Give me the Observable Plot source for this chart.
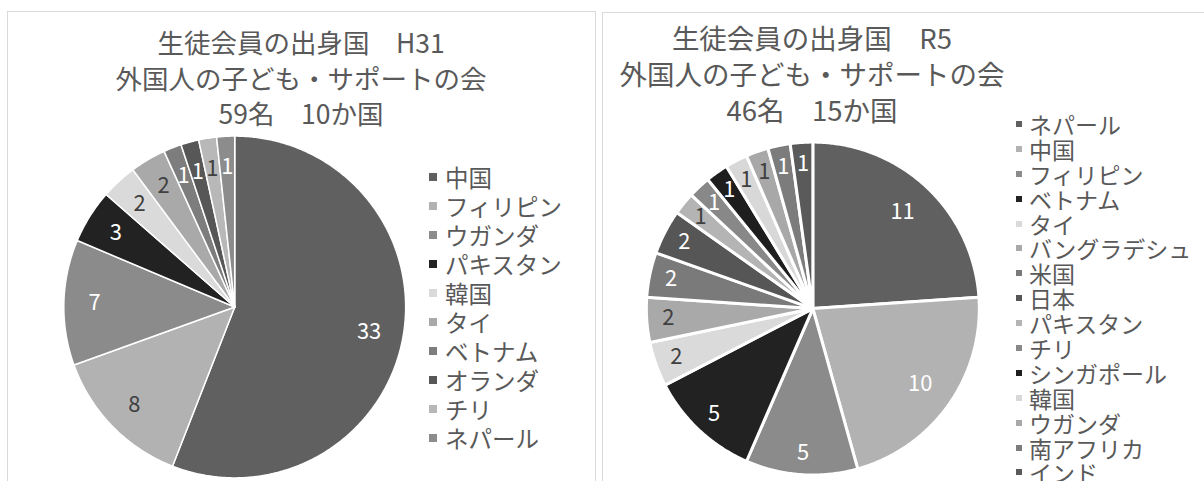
<!DOCTYPE html>
<html><head><meta charset="utf-8">
<script src="https://cdn.jsdelivr.net/npm/d3@7"></script>
<script src="https://cdn.jsdelivr.net/npm/@observablehq/plot@0.6"></script>
<style>
body{margin:0;background:#fff;width:1204px;height:481px;overflow:hidden;position:relative;font-family:"Noto Sans CJK JP","Noto Sans",sans-serif;color:#595959}
.panel{position:absolute;border:1px solid #d9d9d9;background:#fff;overflow:hidden;box-sizing:border-box}
.panel svg{position:absolute;left:0;top:0}
.title{position:absolute;text-align:center;white-space:nowrap;transform:translateX(-50%)}
.legend{position:absolute}
.legend div{display:flex;align-items:center;white-space:nowrap}
.legend .sw{display:inline-block;flex:none}
</style></head><body>
<div id="p1" class="panel" style="left:7px;top:11px;width:589px;height:520px"></div>
<div id="p2" class="panel" style="left:602px;top:12px;width:640px;height:520px"></div>
<script>
// ---- H31 data ----
const titleH31 = ["生徒会員の出身国　H31", "外国人の子ども・サポートの会", "59名　10か国"];
const countriesH31 = ["中国", "フィリピン", "ウガンダ", "パキスタン", "韓国", "タイ", "ベトナム", "オランダ", "チリ", "ネパール"];
const valuesH31 = [33, 8, 7, 3, 2, 2, 1, 1, 1, 1];
const colorsH31 = ["#606060", "#b2b2b2", "#8b8b8b", "#222222", "#dadada", "#a9a9a9", "#7d7d7d", "#575757", "#b8b8b8", "#8c8c8c"];
const inkH31 = ["#fff", "#404040", "#fff", "#fff", "#404040", "#404040", "#fff", "#fff", "#404040", "#fff"];

// ---- R5 data ----
const titleR5 = ["生徒会員の出身国　R5", "外国人の子ども・サポートの会", "46名　15か国"];
const countriesR5 = ["ネパール", "中国", "フィリピン", "ベトナム", "タイ", "バングラデシュ", "米国", "日本", "パキスタン", "チリ", "シンガポール", "韓国", "ウガンダ", "南アフリカ", "インド"];
const valuesR5 = [11, 10, 5, 5, 2, 2, 2, 2, 1, 1, 1, 1, 1, 1, 1];
const colorsR5 = ["#606060", "#b2b2b2", "#8b8b8b", "#222222", "#dadada", "#a9a9a9", "#7a7a7a", "#565656", "#b4b4b4", "#888888", "#1e1e1e", "#d8d8d8", "#a8a8a8", "#7c7c7c", "#5a5a5a"];
const inkR5 = ["#fff", "#fff", "#fff", "#fff", "#404040", "#404040", "#fff", "#fff", "#404040", "#fff", "#fff", "#404040", "#404040", "#fff", "#fff"];

function buildPie(names, values) {
  const total = d3.sum(values);
  let acc = 0;
  const pts = [], labels = [];
  names.forEach((n, i) => {
    const a0 = acc / total * 2 * Math.PI;
    acc += values[i];
    const a1 = acc / total * 2 * Math.PI;
    pts.push({name: n, x: 0, y: 0});
    const steps = Math.max(2, Math.ceil((a1 - a0) / (Math.PI / 360)));
    for (let k = 0; k <= steps; k++) {
      const a = a0 + (a1 - a0) * k / steps;
      pts.push({name: n, x: Math.sin(a), y: Math.cos(a)});
    }
    labels.push({name: n, value: values[i], am: (a0 + a1) / 2, frac: values[i] / total, i});
  });
  return {pts, labels};
}

function drawPanel(el, cfg) {
  const {names, values, colors, ink, title, cx, cy, r, W, H, sep, titleX, titleTop, titleLH, titleFS,
         legX, legTop, legLH, legFS, sw, gap, kBig, kSmall} = cfg;
  const {pts, labels} = buildPie(names, values);
  const lr = d => d.frac > 0.2 ? kBig : kSmall;
  const chart = Plot.plot({
    width: W, height: H, margin: 0,
    x: {domain: [-1, 1], range: [cx - r, cx + r], axis: null},
    y: {domain: [-1, 1], range: [cy + r, cy - r], axis: null},
    color: {domain: names, range: colors},
    style: {fontFamily: '"Noto Sans CJK JP", sans-serif', background: "transparent"},
    marks: [
      Plot.line(pts, {x: "x", y: "y", z: "name", fill: "name", stroke: "#fff", strokeWidth: sep, curve: "linear-closed", strokeLinejoin: "round"}),
      Plot.text(labels, {
        x: d => lr(d) * Math.sin(d.am), y: d => lr(d) * Math.cos(d.am),
        text: d => String(d.value), fill: d => ink[d.i], fontSize: 22
      })
    ]
  });
  el.appendChild(chart);
  const t = document.createElement("div");
  t.className = "title";
  t.style.cssText = `left:${titleX}px;top:${titleTop}px;line-height:${titleLH}px;font-size:${titleFS}px`;
  t.innerHTML = title.join("<br>");
  el.appendChild(t);
  const lg = document.createElement("div");
  lg.className = "legend";
  lg.style.cssText = `left:${legX}px;top:${legTop}px;font-size:${legFS}px`;
  names.forEach((n, i) => {
    const row = document.createElement("div");
    row.style.height = legLH + "px";
    const s = document.createElement("span");
    s.className = "sw";
    s.style.cssText = `width:${sw}px;height:${sw}px;background:${colors[i]};margin-right:${gap}px`;
    row.appendChild(s);
    row.appendChild(document.createTextNode(n));
    lg.appendChild(row);
  });
  el.appendChild(lg);
}

drawPanel(document.getElementById("p1"), {
  names: countriesH31, values: valuesH31, colors: colorsH31, ink: inkH31, title: titleH31,
  cx: 227, cy: 295.5, r: 171.5, W: 589, H: 520, sep: 1.5,
  titleX: 293, titleTop: 12, titleLH: 35.5, titleFS: 26.5,
  legX: 421, legTop: 150.5, legLH: 29, legFS: 23.5, sw: 8, gap: 8, kBig: 0.8, kSmall: 0.82
});
drawPanel(document.getElementById("p2"), {
  names: countriesR5, values: valuesR5, colors: colorsR5, ink: inkR5, title: titleR5,
  cx: 210, cy: 296, r: 167, W: 640, H: 520, sep: 3,
  titleX: 209, titleTop: 6, titleLH: 36, titleFS: 27.5,
  legX: 413, legTop: 98.5, legLH: 24.9, legFS: 23, sw: 6, gap: 7, kBig: 0.79, kSmall: 0.87
});
</script>
</body></html>
